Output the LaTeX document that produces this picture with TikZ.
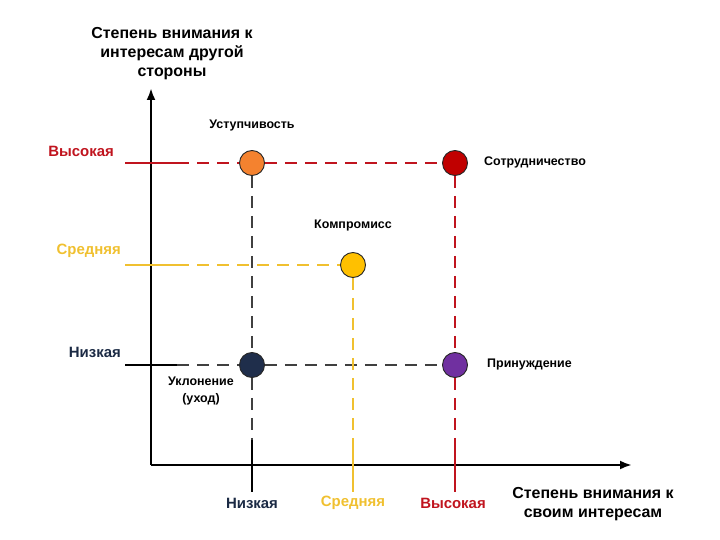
\documentclass[tikz,border=0pt]{standalone}
\usepackage{fontspec}
\setmainfont{Liberation Sans}
\setsansfont{Liberation Sans}
\usepackage{tikz}
\usetikzlibrary{arrows.meta}
\definecolor{hired}{HTML}{C0141E}
\definecolor{midyel}{HTML}{F0C030}
\definecolor{lownavy}{HTML}{1B2A44}
\definecolor{dotorange}{HTML}{F4822F}
\definecolor{dotred}{HTML}{C00000}
\definecolor{dotyel}{HTML}{FFC000}
\definecolor{dotnavy}{HTML}{1F2E4B}
\definecolor{dotpurple}{HTML}{7030A0}
\tikzset{
  big/.style={font=\fontsize{15}{19.5}\selectfont\bfseries, inner sep=0pt},
  title/.style={font=\fontsize{16}{19}\selectfont\bfseries, inner sep=0pt},
  small/.style={font=\fontsize{12.5}{17}\selectfont\bfseries, inner sep=0pt},
  dot/.style={circle, draw=black!85, line width=0.9bp, minimum size=25bp, inner sep=0pt},
  guide/.style={line width=1.2bp, dash pattern=on 12bp off 8bp},
  tick/.style={line width=2bp}
}
\begin{document}
\begin{tikzpicture}[x=1bp, y=-1bp, >={Latex[length=12bp,width=9bp]}]
		\useasboundingbox (0,0) rectangle (720,540);
		% axes
		\coordinate (O) at (151,465);
		\coordinate (ytop) at (151,88);
		\coordinate (xend) at (632,465);
		\draw[line width=2.5bp, ->] (O) -- (ytop);
		\draw[line width=2.5bp, ->] (O) -- (xend);
		% tick ends
		\coordinate (hiA) at (125,163); \coordinate (hiB) at (177,163);
		\coordinate (midA) at (125,265); \coordinate (midB) at (177,265);
		\coordinate (lowA) at (125,365); \coordinate (lowB) at (177,365);
		\coordinate (xlowA) at (252,440); \coordinate (xlowB) at (252,492);
		\coordinate (xmidA) at (353,440); \coordinate (xmidB) at (353,492);
		\coordinate (xhiA) at (455,440); \coordinate (xhiB) at (455,492);
		\draw[tick, hired] (hiA) -- (hiB);
		\draw[tick, midyel] (midA) -- (midB);
		\draw[tick, black] (lowA) -- (lowB);
		\draw[tick, black] (xlowA) -- (xlowB);
		\draw[tick, midyel] (xmidA) -- (xmidB);
		\draw[tick, hired] (xhiA) -- (xhiB);
		% styles of conflict
		\node[dot, fill=dotorange] (yield) at (252,163) {};
		\node[dot, fill=dotred] (coop) at (455,163) {};
		\node[dot, fill=dotyel] (comp) at (353,265) {};
		\node[dot, fill=dotnavy] (avoid) at (252,365) {};
		\node[dot, fill=dotpurple] (force) at (455,365) {};
		% guide lines
		\draw[guide, hired] (hiB) -- (yield);
		\draw[guide, hired] (yield) -- (coop);
		\draw[guide, midyel] (midB) -- (comp);
		\draw[guide, black!75] (lowB) -- (avoid);
		\draw[guide, black!75] (avoid) -- (force);
		\draw[guide, black!75] (yield) -- (avoid);
		\draw[guide, black!75] (avoid) -- (xlowA);
		\draw[guide, midyel] (comp) -- (xmidA);
		\draw[guide, hired] (coop) -- (force);
		\draw[guide, hired] (force) -- (xhiA);
		% point labels
		\node[small] (lyield) at (252,126) {Уступчивость};
		\node[small, anchor=west] (lcoop) at (484,162) {Сотрудничество};
		\node[small] (lcomp) at (353,226) {Компромисс};
		\node[small, align=center] (lavoid) at (201,391) {Уклонение\\(уход)};
		\node[small, anchor=west] (lforce) at (487,365) {Принуждение};
		% level labels
		\node[big, anchor=east, hired] (yhi) at (114,151) {Высокая};
		\node[big, anchor=east, midyel] (ymid) at (121,251) {Средняя};
		\node[big, anchor=east, lownavy] (ylow) at (121,352) {Низкая};
		\node[big, lownavy] (xlow) at (252,503) {Низкая};
		\node[big, midyel] (xmid) at (353,503) {Средняя};
		\node[big, hired] (xhi) at (453,503) {Высокая};
		% axis titles
		\node[title, align=center] (ytitle) at (172,54) {Степень внимания к\\интересам другой\\стороны};
		\node[title, align=center] (xtitle) at (593,504) {Степень внимания к\\своим интересам};
	\end{tikzpicture}
\end{document}
